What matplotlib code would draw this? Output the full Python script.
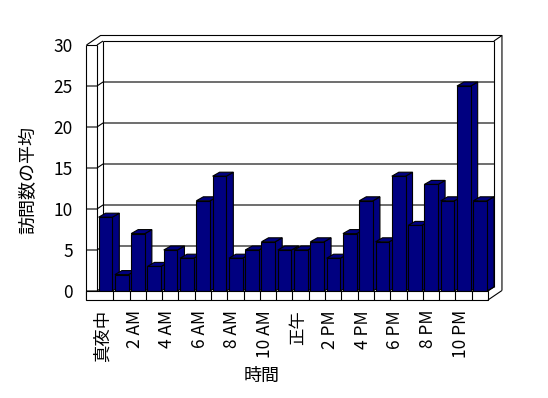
import matplotlib
matplotlib.use("Agg")
import matplotlib.pyplot as plt
from matplotlib.patches import Polygon

plt.rcParams['font.family'] = ['Noto Sans CJK JP', 'DejaVu Sans']

# ---- data ----
hours = list(range(24))
visits = [9, 2, 7, 3, 5, 4, 11, 14, 4, 5, 6, 5, 5, 6, 4, 7, 11, 6, 14, 8, 13, 11, 25, 11]
tick_positions = [0, 2, 4, 6, 8, 10, 12, 14, 16, 18, 20, 22]
tick_labels = ['真夜中', '2 AM', '4 AM', '6 AM', '8 AM', '10 AM', '正午',
               '2 PM', '4 PM', '6 PM', '8 PM', '10 PM']
y_ticks = [0, 5, 10, 15, 20, 25, 30]
x_title = '時間'
y_title = '訪問数の平均'

# ---- layout (pixel scale of the data units) ----
W, H = 548, 398
UX = 16.29   # px per category
UY = 8.2     # px per value unit
X0 = 97      # px of front-left edge of plot floor (category -0.5)
Y0 = 291     # px of value 0 on front plane

fig = plt.figure(figsize=(W / 100, H / 100), dpi=100)
ax = fig.add_axes([0, 0, 1, 1])
ax.set_xlim(-0.5 - X0 / UX, -0.5 + (W - X0) / UX)
ax.set_ylim((Y0 - H) / UY, Y0 / UY)
ax.axis('off')

LW = 0.8
DXB, DYB = 6 / UX, 4 / UY          # depth of plot (front -> back plane)
TXB, TYB = 8 / UX, 5.5 / UY        # back-wall thickness
WALL = 10.5 / UX                   # left wall thickness
FLOOR = 9 / UY                     # floor thickness
YMAX = y_ticks[-1]
xl, xr = -0.5, len(hours) - 0.5

def line(xs, ys, z=1):
    ax.plot(xs, ys, color='black', lw=LW, zorder=z, solid_capstyle='butt')

# back wall inner face + gridlines
bx0, bx1 = xl + DXB, xr + DXB
for t in y_ticks[:-1]:
    line([xl - WALL, xl, bx0, bx1], [t, t, t + DYB, t + DYB])
line([bx0, bx0], [DYB, YMAX + DYB])
line([bx1, bx1], [DYB, YMAX + DYB])
line([bx0, bx1], [YMAX + DYB, YMAX + DYB])
# outer back wall edges
ox0, ox1 = xl - WALL + DXB + TXB, bx1 + TXB
oy = YMAX + DYB + TYB
line([xl - WALL, ox0, ox1, ox1], [YMAX, oy, oy, DYB + TYB - FLOOR])
line([bx1, ox1], [YMAX + DYB, oy])
line([xl, bx0], [YMAX, YMAX + DYB])
line([xl - WALL, xl], [YMAX, YMAX])
# left wall front edges
line([xl - WALL, xl - WALL], [-FLOOR, YMAX])
line([xl, xl], [0, YMAX])

# bars
bw = 13.7 / UX
off = 1.6 / UX
dx, dy = 7 / UX, 4 / UY
navy = '#000080'
for i, v in zip(hours, visits):
    l = i - 0.5 + off
    r = l + bw
    z = 2 + i * 0.01
    ax.add_patch(Polygon([(r, 0), (r + dx, dy), (r + dx, v + dy), (r, v)],
                         closed=True, fc=navy, ec='black', lw=LW, zorder=z))
    ax.add_patch(Polygon([(l, v), (r, v), (r + dx, v + dy), (l + dx, v + dy)],
                         closed=True, fc=navy, ec='black', lw=LW, zorder=z))
    ax.add_patch(Polygon([(l, 0), (r, 0), (r, v), (l, v)],
                         closed=True, fc=navy, ec='black', lw=LW, zorder=z))

# floor front face
ax.add_patch(Polygon([(xl - WALL, -FLOOR), (xr, -FLOOR), (xr, 0), (xl - WALL, 0)],
                     closed=True, fc='white', ec='black', lw=LW, zorder=3))
for k in hours[:-1]:
    line([k + 0.5, k + 0.5], [-FLOOR, 0], z=3.1)
line([xr, bx1], [0, DYB], z=3.1)
line([xr, ox1], [-FLOOR, DYB + TYB - FLOOR], z=3.1)

# y tick labels
for t in y_ticks:
    ax.text(xl - (24 / UX), t - 0.25, str(t), ha='right', va='center', fontsize=12.5)

# x tick labels
for p, lab in zip(tick_positions, tick_labels):
    ax.text(p - 3 / UX, -19 / UY, lab, rotation=90, ha='center', va='top', fontsize=12.5)

# axis titles
ax.text(-0.5 + (262 - X0) / UX, (Y0 - 376) / UY, x_title, ha='center', va='center', fontsize=13)
ax.text(-0.5 + (28 - X0) / UX, (Y0 - 180) / UY, y_title, rotation=90,
        ha='center', va='center', fontsize=13)

fig.savefig('out.png', dpi=100)
